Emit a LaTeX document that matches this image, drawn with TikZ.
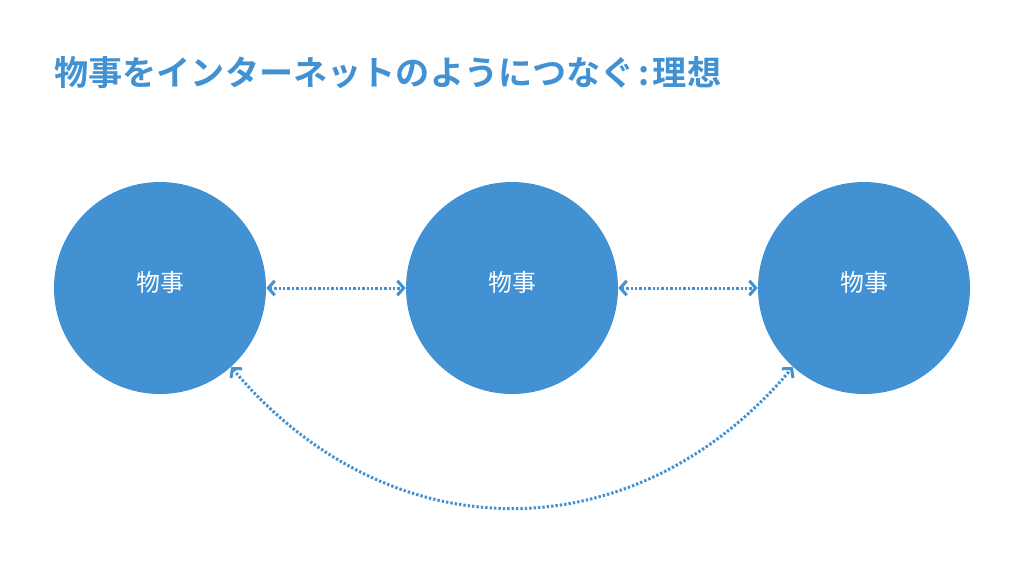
\documentclass[tikz,border=0pt]{standalone}
\usepackage{fontspec}
\newfontfamily\cjk{Noto Sans CJK JP}
\newfontfamily\cjkbold{Noto Sans CJK JP Bold}
\usetikzlibrary{positioning,arrows.meta}
\definecolor{thingblue}{HTML}{4292D3}

\begin{document}
\begin{tikzpicture}[x=0.25mm, y=-0.25mm,
    >={Straight Barb[length=1.6mm, width=3.6mm, line width=0.75mm]},
    thing/.style={circle, fill=thingblue, minimum size=53mm, inner sep=0pt, text=white, font=\cjk\fontsize{17}{17}\selectfont},
    link/.style={thingblue, line width=0.75mm, dash pattern=on 0.6mm off 0.5mm, <->}]
        \useasboundingbox (0,0) rectangle (1024,576);

        % Titre
        \node[anchor=west, text=thingblue, inner sep=0pt, font=\cjkbold\fontsize{24.3}{25}\selectfont] (titre) at (54,73) {物事をインターネットのようにつなぐ\hspace{0.1em}:\hspace{0.1em}理想};

        % Objets (ligne)
        \node[thing] (gauche) at (160,288) {\raisebox{3.5mm}{物事}};
        \node[thing] (milieu) at (512,288) {\raisebox{3.5mm}{物事}};
        \node[thing] (droite) at (864,288) {\raisebox{3.5mm}{物事}};

        % Liaisons
        \draw[link] (gauche) -- (milieu);
        \draw[link] (milieu) -- (droite);
        \draw[link] (gauche.-48) to[out=-50, in=-130, looseness=1.12] (droite.-132);
    \end{tikzpicture}
\end{document}
